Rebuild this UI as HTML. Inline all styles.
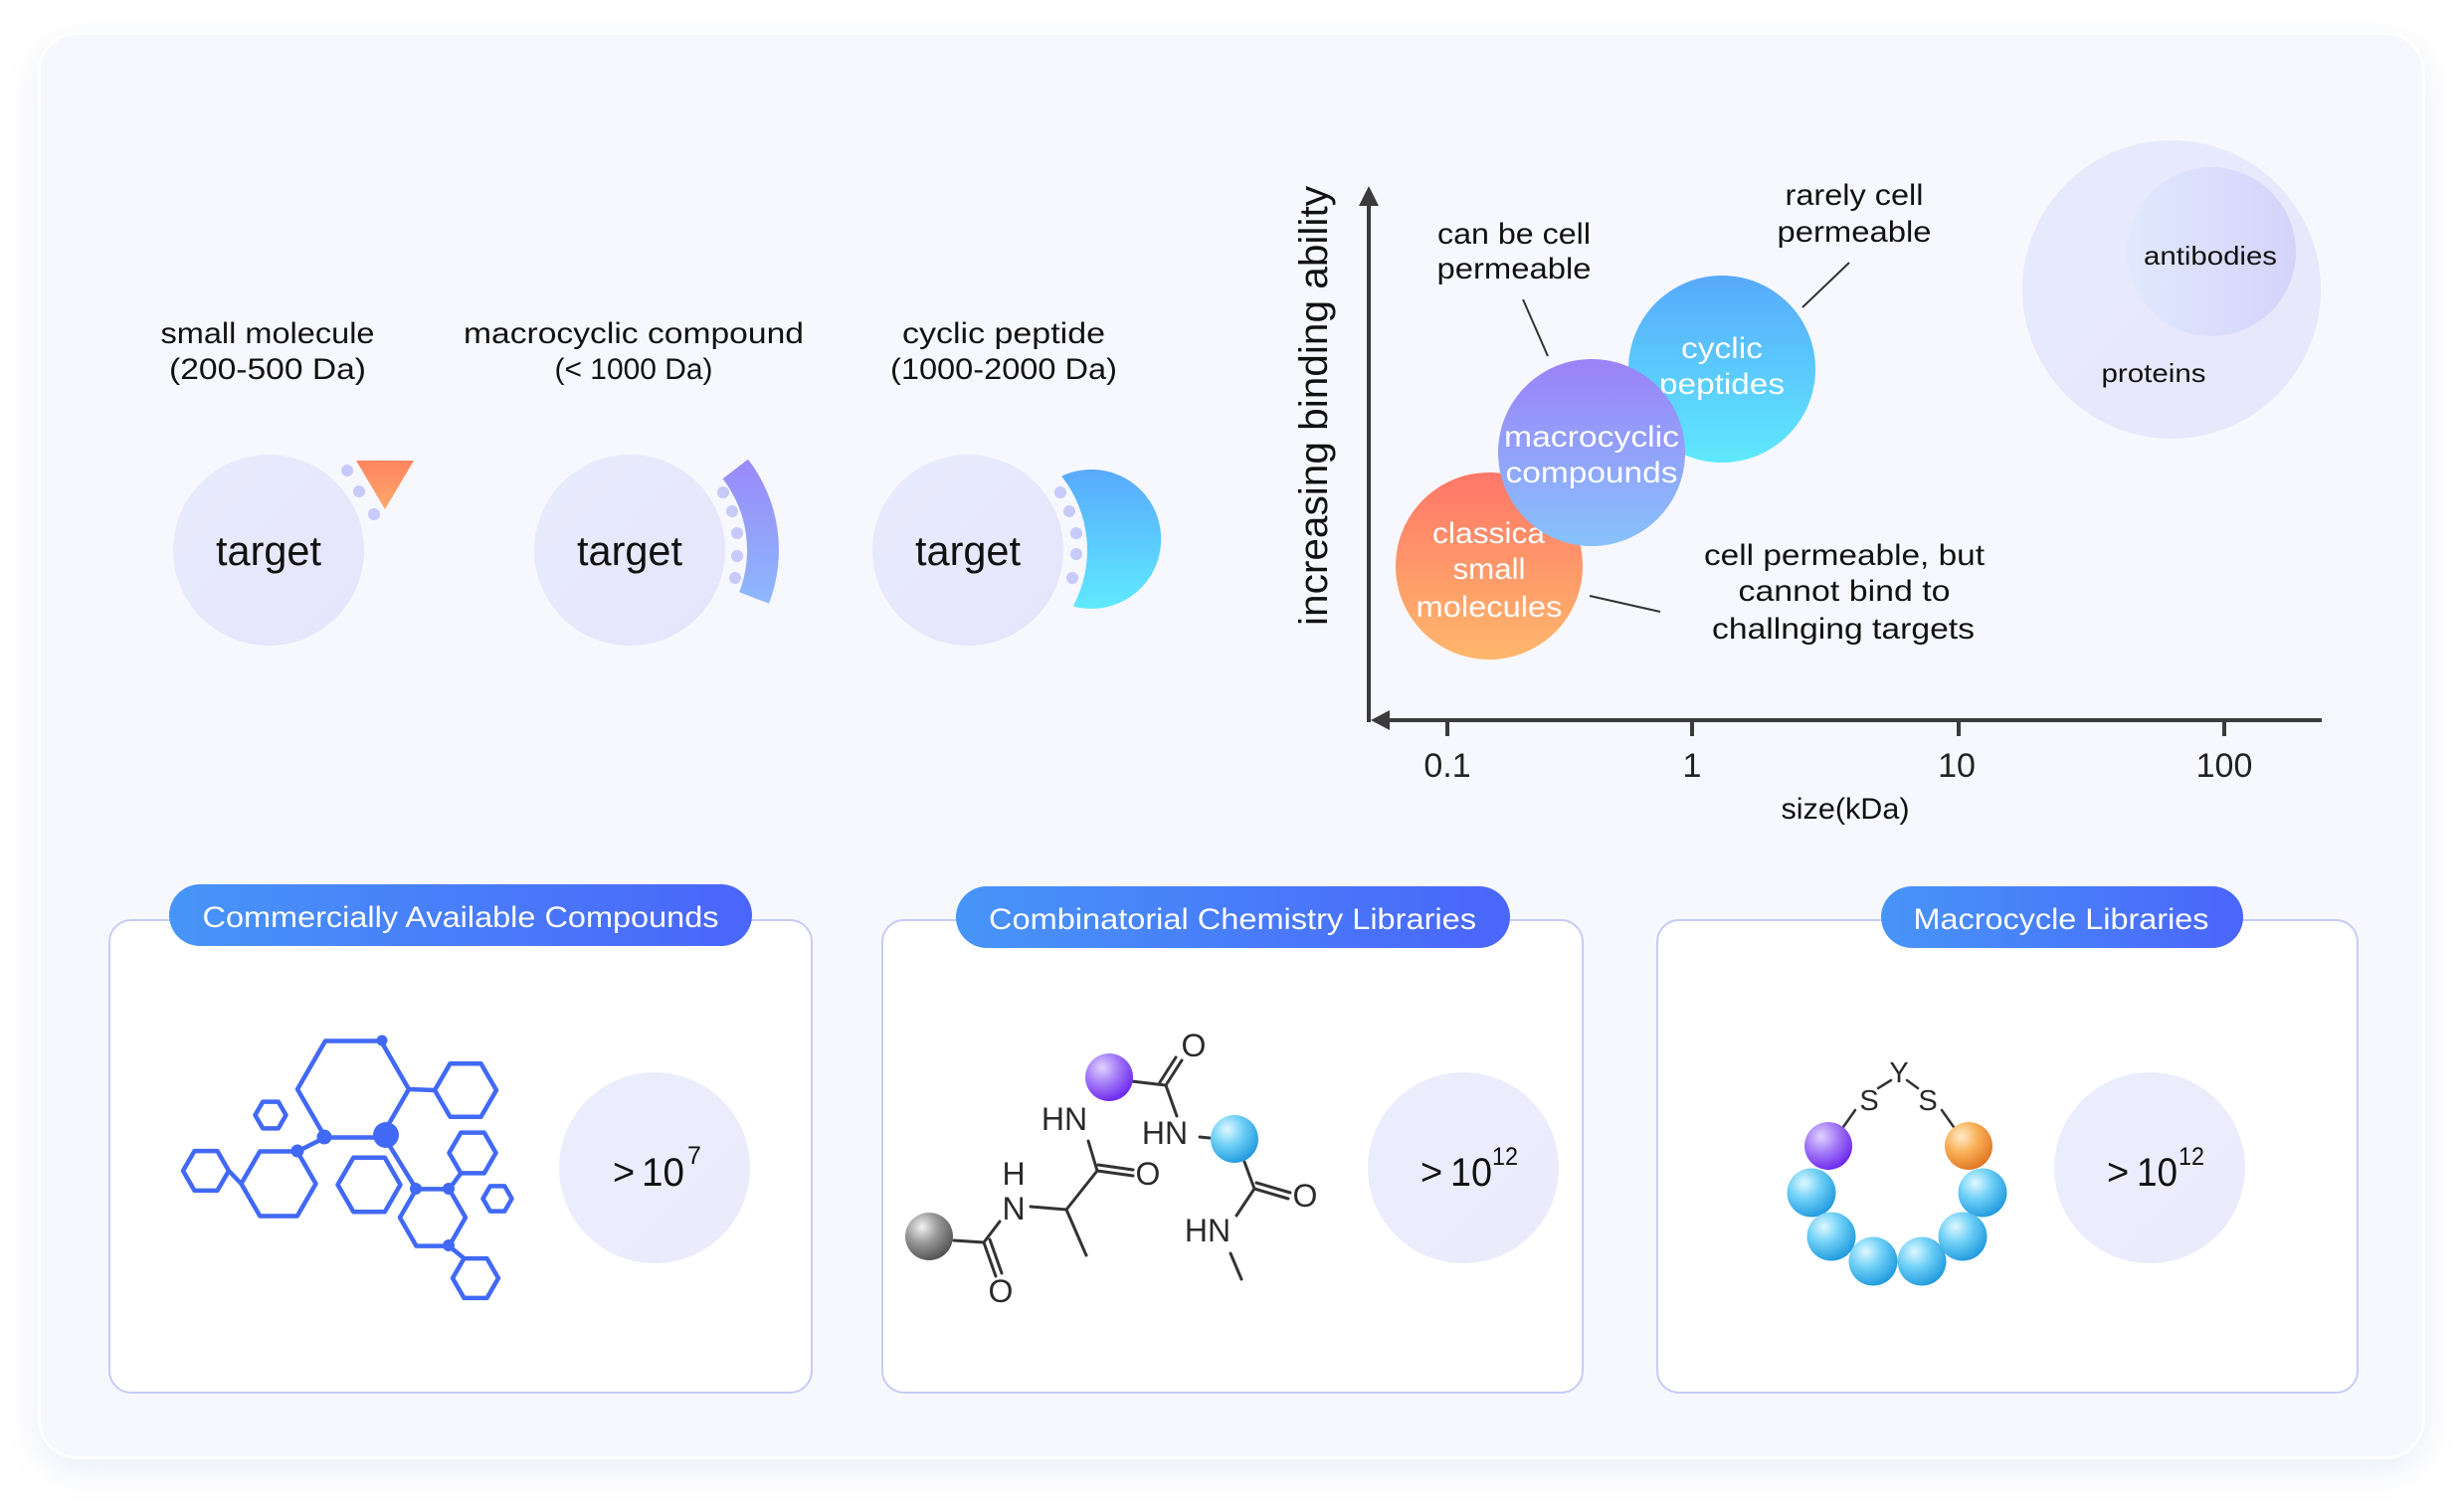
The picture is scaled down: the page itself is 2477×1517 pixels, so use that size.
<!DOCTYPE html>
<html><head><meta charset="utf-8">
<style>
html,body{margin:0;padding:0;background:#ffffff;}
body{width:2477px;height:1517px;position:relative;overflow:hidden;}
#card{position:absolute;left:38px;top:32px;width:2400px;height:1435px;box-sizing:border-box;border:3px solid #ffffff;border-radius:40px;background:#f7f8fe;box-shadow:0 12px 34px rgba(110,120,210,0.13);}
svg{position:absolute;left:0;top:0;}
text{font-family:"Liberation Sans",Arial,sans-serif;}
</style></head>
<body>
<div id="card"></div>
<svg width="2477" height="1517" viewBox="0 0 2477 1517" xmlns="http://www.w3.org/2000/svg">
<defs>
  <linearGradient id="gTarget" x1="0" y1="0" x2="1" y2="1"><stop offset="0" stop-color="#e8ecfd"/><stop offset="1" stop-color="#e6e4fb"/></linearGradient>
  <linearGradient id="gBig" x1="0" y1="0" x2="1" y2="1"><stop offset="0" stop-color="#ebeefd"/><stop offset="1" stop-color="#eceafc"/></linearGradient>
  <linearGradient id="gTri" x1="0" y1="0" x2="0" y2="1"><stop offset="0" stop-color="#ff845f"/><stop offset="1" stop-color="#ffa86a"/></linearGradient>
  <linearGradient id="gArc" gradientUnits="userSpaceOnUse" x1="0" y1="462" x2="0" y2="607"><stop offset="0" stop-color="#9a89f9"/><stop offset="1" stop-color="#8db8fc"/></linearGradient>
  <linearGradient id="gCres" gradientUnits="userSpaceOnUse" x1="0" y1="471" x2="0" y2="613"><stop offset="0" stop-color="#59a9fc"/><stop offset="1" stop-color="#5eeafe"/></linearGradient>
  <linearGradient id="gCyc" x1="0" y1="0" x2="0" y2="1"><stop offset="0" stop-color="#58a9fb"/><stop offset="1" stop-color="#5ee9fd"/></linearGradient>
  <linearGradient id="gMac" x1="0" y1="0" x2="0" y2="1"><stop offset="0" stop-color="#9b82f8"/><stop offset="1" stop-color="#88c2fc"/></linearGradient>
  <linearGradient id="gCls" x1="0" y1="0" x2="0" y2="1"><stop offset="0" stop-color="#ff7668"/><stop offset="1" stop-color="#ffb86c"/></linearGradient>
  <linearGradient id="gProt" x1="0" y1="0" x2="1" y2="1"><stop offset="0" stop-color="#e7ebfd"/><stop offset="1" stop-color="#e8e6fc"/></linearGradient>
  <linearGradient id="gAnti" x1="0" y1="0" x2="1" y2="0"><stop offset="0" stop-color="#e0e9fd"/><stop offset="1" stop-color="#d5d3fb"/></linearGradient>
  <linearGradient id="gPill" x1="0" y1="0" x2="1" y2="0"><stop offset="0" stop-color="#4795f8"/><stop offset="1" stop-color="#4a65fb"/></linearGradient>
  <radialGradient id="sGray" cx="0.35" cy="0.3" r="0.75"><stop offset="0" stop-color="#f2f2f2"/><stop offset="0.45" stop-color="#9a9a9a"/><stop offset="1" stop-color="#505050"/></radialGradient>
  <radialGradient id="sPur" cx="0.35" cy="0.3" r="0.75"><stop offset="0" stop-color="#e2d2ff"/><stop offset="0.45" stop-color="#a57ef7"/><stop offset="1" stop-color="#6a24ee"/></radialGradient>
  <radialGradient id="sCyan" cx="0.35" cy="0.3" r="0.75"><stop offset="0" stop-color="#e0f8ff"/><stop offset="0.45" stop-color="#6fd0f7"/><stop offset="1" stop-color="#1e98dd"/></radialGradient>
  <radialGradient id="sOr" cx="0.35" cy="0.3" r="0.75"><stop offset="0" stop-color="#ffeccc"/><stop offset="0.45" stop-color="#f9b25a"/><stop offset="1" stop-color="#df7420"/></radialGradient>
</defs>

<!-- ===== Top-left: target illustrations ===== -->
<g fill="#111" font-size="30" text-anchor="middle">
  <text x="269" y="345" textLength="215" lengthAdjust="spacingAndGlyphs">small molecule</text>
  <text x="269" y="381" textLength="198" lengthAdjust="spacingAndGlyphs">(200-500 Da)</text>
  <text x="637" y="345" textLength="342" lengthAdjust="spacingAndGlyphs">macrocyclic compound</text>
  <text x="637" y="381" textLength="159" lengthAdjust="spacingAndGlyphs">(&lt; 1000 Da)</text>
  <text x="1009" y="345" textLength="204" lengthAdjust="spacingAndGlyphs">cyclic peptide</text>
  <text x="1009" y="381" textLength="228" lengthAdjust="spacingAndGlyphs">(1000-2000 Da)</text>
</g>

<circle cx="270" cy="553" r="96" fill="url(#gTarget)"/>
<circle cx="633" cy="553" r="96" fill="url(#gTarget)"/>
<circle cx="973" cy="553" r="96" fill="url(#gTarget)"/>
<g fill="#111" font-size="42" text-anchor="middle">
  <text x="270" y="568" textLength="106" lengthAdjust="spacingAndGlyphs">target</text>
  <text x="633" y="568" textLength="106" lengthAdjust="spacingAndGlyphs">target</text>
  <text x="973" y="568" textLength="106" lengthAdjust="spacingAndGlyphs">target</text>
</g>
<!-- small molecule -->
<polygon points="358,463 416,463 387,512" fill="url(#gTri)"/>
<g fill="#c7cafa">
  <circle cx="349" cy="473" r="6"/><circle cx="361" cy="494" r="6"/><circle cx="376" cy="517" r="6"/>
</g>
<!-- macrocyclic arc -->
<path d="M752,461.7 A150,150 0 0 1 773,606.8 L743.2,595.3 A118,118 0 0 0 726.6,481.2 Z" fill="url(#gArc)"/>
<g fill="#c7cafa">
  <circle cx="727" cy="495" r="6"/><circle cx="736" cy="514" r="6"/><circle cx="741" cy="536" r="6"/><circle cx="741" cy="559" r="6"/><circle cx="739" cy="581" r="6"/>
</g>
<!-- cyclic peptide crescent -->
<path d="M1067.2,478.7 A70,70 0 1 1 1078.8,609.5 A120,120 0 0 0 1067.2,478.7 Z" fill="url(#gCres)"/>
<g fill="#c7cafa">
  <circle cx="1066" cy="495" r="6"/><circle cx="1075" cy="514" r="6"/><circle cx="1082" cy="536" r="6"/><circle cx="1082" cy="557" r="6"/><circle cx="1078" cy="581" r="6"/>
</g>

<!-- ===== Top-right: chart ===== -->
<circle cx="2183" cy="291" r="150" fill="url(#gProt)"/>
<circle cx="2223" cy="253" r="85" fill="url(#gAnti)"/>
<text x="2222" y="266" font-size="26" fill="#111" text-anchor="middle" textLength="134" lengthAdjust="spacingAndGlyphs">antibodies</text>
<text x="2165" y="384" font-size="26" fill="#111" text-anchor="middle" textLength="105" lengthAdjust="spacingAndGlyphs">proteins</text>

<!-- axes -->
<g stroke="#3b3b3b" stroke-width="4" fill="none">
  <line x1="1376" y1="200" x2="1376" y2="726"/>
  <line x1="1390" y1="724" x2="2334" y2="724"/>
  <line x1="1455" y1="724" x2="1455" y2="740"/>
  <line x1="1701" y1="724" x2="1701" y2="740"/>
  <line x1="1969" y1="724" x2="1969" y2="740"/>
  <line x1="2236" y1="724" x2="2236" y2="740"/>
</g>
<polygon points="1376,187 1366,207 1386,207" fill="#3b3b3b"/>
<polygon points="1378,724 1397,714 1397,734" fill="#3b3b3b"/>
<g fill="#222" font-size="34" text-anchor="middle">
  <text x="1455" y="781">0.1</text>
  <text x="1701" y="781">1</text>
  <text x="1967" y="781">10</text>
  <text x="2236" y="781">100</text>
</g>
<text x="1855" y="823" font-size="30" fill="#111" text-anchor="middle" textLength="129" lengthAdjust="spacingAndGlyphs">size(kDa)</text>
<text transform="translate(1334,408) rotate(-90)" x="0" y="0" font-size="40" fill="#111" text-anchor="middle" textLength="442" lengthAdjust="spacingAndGlyphs">increasing binding ability</text>

<!-- bubbles -->
<circle cx="1731" cy="371" r="94" fill="url(#gCyc)"/>
<g fill="#ffffff" font-size="30" text-anchor="middle">
  <text x="1731" y="360" textLength="82" lengthAdjust="spacingAndGlyphs">cyclic</text>
  <text x="1731" y="396" textLength="126" lengthAdjust="spacingAndGlyphs">peptides</text>
</g>
<circle cx="1497" cy="569" r="94" fill="url(#gCls)"/>
<g fill="#ffffff" font-size="30">
  <text x="1440" y="546" textLength="113" lengthAdjust="spacingAndGlyphs">classica</text>
  <text x="1497" y="582" text-anchor="middle" textLength="73" lengthAdjust="spacingAndGlyphs">small</text>
  <text x="1497" y="620" text-anchor="middle" textLength="147" lengthAdjust="spacingAndGlyphs">molecules</text>
</g>
<circle cx="1600" cy="455" r="94" fill="url(#gMac)"/>
<g fill="#ffffff" font-size="30" text-anchor="middle">
  <text x="1600" y="449" textLength="176" lengthAdjust="spacingAndGlyphs">macrocyclic</text>
  <text x="1600" y="485" textLength="173" lengthAdjust="spacingAndGlyphs">compounds</text>
</g>

<!-- annotations -->
<g fill="#111" font-size="30" text-anchor="middle">
  <text x="1522" y="245" textLength="154" lengthAdjust="spacingAndGlyphs">can be cell</text>
  <text x="1522" y="280" textLength="155" lengthAdjust="spacingAndGlyphs">permeable</text>
  <text x="1864" y="206" textLength="139" lengthAdjust="spacingAndGlyphs">rarely cell</text>
  <text x="1864" y="243" textLength="155" lengthAdjust="spacingAndGlyphs">permeable</text>
  <text x="1854" y="568" textLength="282" lengthAdjust="spacingAndGlyphs">cell permeable, but</text>
  <text x="1854" y="604" textLength="213" lengthAdjust="spacingAndGlyphs">cannot bind to</text>
  <text x="1853" y="642" textLength="264" lengthAdjust="spacingAndGlyphs">challnging targets</text>
</g>
<g stroke="#333" stroke-width="2">
  <line x1="1531" y1="301" x2="1556" y2="358"/>
  <line x1="1859" y1="264" x2="1812" y2="309"/>
  <line x1="1598" y1="599" x2="1669" y2="615"/>
</g>

<!-- ===== Bottom boxes ===== -->
<g fill="#ffffff" stroke="#c8ccf4" stroke-width="2">
  <rect x="110" y="925" width="706" height="475" rx="22"/>
  <rect x="887" y="925" width="704" height="475" rx="22"/>
  <rect x="1666" y="925" width="704" height="475" rx="22"/>
</g>
<rect x="170" y="889" width="586" height="62" rx="31" fill="url(#gPill)"/>
<rect x="961" y="891" width="557" height="62" rx="31" fill="url(#gPill)"/>
<rect x="1891" y="891" width="364" height="62" rx="31" fill="url(#gPill)"/>
<g fill="#ffffff" font-size="30" text-anchor="middle">
  <text x="463" y="932" textLength="519" lengthAdjust="spacingAndGlyphs">Commercially Available Compounds</text>
  <text x="1239" y="934" textLength="490" lengthAdjust="spacingAndGlyphs">Combinatorial Chemistry Libraries</text>
  <text x="2072" y="934" textLength="297" lengthAdjust="spacingAndGlyphs">Macrocycle Libraries</text>
</g>

<!-- count circles -->
<circle cx="658" cy="1174" r="96" fill="url(#gBig)"/>
<circle cx="1471" cy="1174" r="96" fill="url(#gBig)"/>
<circle cx="2161" cy="1174" r="96" fill="url(#gBig)"/>
<g fill="#111">
  <text x="616" y="1191" font-size="38">&gt;</text>
  <text x="645" y="1192" font-size="40" textLength="43" lengthAdjust="spacingAndGlyphs">10</text>
  <text x="691" y="1170" font-size="25">7</text>
  <text x="1428" y="1191" font-size="38">&gt;</text>
  <text x="1458" y="1192" font-size="40" textLength="42" lengthAdjust="spacingAndGlyphs">10</text>
  <text x="1500" y="1171" font-size="25" textLength="26" lengthAdjust="spacingAndGlyphs">12</text>
  <text x="2118" y="1191" font-size="38">&gt;</text>
  <text x="2148" y="1192" font-size="40" textLength="41" lengthAdjust="spacingAndGlyphs">10</text>
  <text x="2190" y="1171" font-size="25" textLength="26" lengthAdjust="spacingAndGlyphs">12</text>
</g>

<!-- hexagon network -->
<g fill="none" stroke="#4169f6" stroke-width="4.5" stroke-linejoin="round">
  <polygon points="411,1095 383,1143.5 327,1143.5 299,1095 327,1046.5 383,1046.5"/>
  <polygon points="499,1096 483.5,1122.8 452.5,1122.8 437,1096 452.5,1069.2 483.5,1069.2"/>
  <polygon points="287.5,1121 279.8,1134.4 264.2,1134.4 256.5,1121 264.2,1107.6 279.8,1107.6"/>
  <polygon points="230,1177 218.5,1196.9 195.5,1196.9 184,1177 195.5,1157.1 218.5,1157.1"/>
  <polygon points="317.5,1190 298.8,1222.5 261.3,1222.5 242.5,1190 261.3,1157.5 298.8,1157.5"/>
  <polygon points="402.5,1191 386.8,1218.3 355.3,1218.3 339.5,1191 355.3,1163.7 386.8,1163.7"/>
  <polygon points="468,1224 451.5,1252.6 418.5,1252.6 402,1224 418.5,1195.4 451.5,1195.4"/>
  <polygon points="498.5,1159 486.8,1179.4 463.3,1179.4 451.5,1159 463.3,1138.6 486.8,1138.6"/>
  <polygon points="514.5,1205 507.3,1217.6 492.8,1217.6 485.5,1205 492.8,1192.4 507.3,1192.4"/>
  <polygon points="501,1285 489.5,1304.9 466.5,1304.9 455,1285 466.5,1265.1 489.5,1265.1"/>
  <line x1="411" y1="1095" x2="437" y2="1096"/>
  <line x1="327" y1="1143.5" x2="299" y2="1157.5"/>
  <line x1="385" y1="1141" x2="418.5" y2="1195.4"/>
  <line x1="230" y1="1177" x2="242.5" y2="1190"/>
  <line x1="463.3" y1="1179.4" x2="451.5" y2="1195.4"/>
  <line x1="451.5" y1="1252.6" x2="466.5" y2="1265.1"/>
</g>
<g fill="#4169f6">
  <circle cx="384" cy="1046" r="5.5"/>
  <circle cx="326" cy="1143" r="7.5"/>
  <circle cx="388" cy="1141" r="13"/>
  <circle cx="299" cy="1157" r="6.5"/>
  <circle cx="418" cy="1195" r="6"/>
  <circle cx="451" cy="1195" r="6"/>
  <circle cx="451" cy="1252" r="6"/>
</g>

<!-- combinatorial chemistry structure -->
<g stroke="#333" stroke-width="3" fill="none" stroke-linecap="round">
  <line x1="959" y1="1247" x2="989" y2="1249"/>
  <line x1="989" y1="1249" x2="1005" y2="1228"/>
  <line x1="989" y1="1249" x2="1001" y2="1283"/>
  <line x1="995" y1="1246" x2="1007" y2="1280"/>
  <line x1="1036" y1="1213" x2="1072" y2="1216"/>
  <line x1="1072" y1="1216" x2="1092" y2="1262"/>
  <line x1="1072" y1="1216" x2="1103" y2="1177"/>
  <line x1="1103" y1="1177" x2="1139" y2="1182"/>
  <line x1="1104" y1="1171" x2="1139" y2="1176"/>
  <line x1="1103" y1="1177" x2="1094" y2="1147"/>
  <line x1="1138" y1="1087" x2="1172" y2="1091"/>
  <line x1="1172" y1="1091" x2="1188" y2="1066"/>
  <line x1="1166" y1="1088" x2="1182" y2="1063"/>
  <line x1="1172" y1="1091" x2="1183" y2="1122"/>
  <line x1="1206" y1="1143" x2="1216" y2="1144"/>
  <line x1="1251" y1="1168" x2="1261" y2="1195"/>
  <line x1="1261" y1="1195" x2="1295" y2="1205"/>
  <line x1="1263" y1="1189" x2="1297" y2="1199"/>
  <line x1="1261" y1="1195" x2="1243" y2="1222"/>
  <line x1="1237" y1="1260" x2="1248" y2="1286"/>
</g>
<g fill="#2a2a2a" font-size="32" text-anchor="middle">
  <text x="1200" y="1062">O</text>
  <text x="1070" y="1136">HN</text>
  <text x="1171" y="1150">HN</text>
  <text x="1154" y="1191">O</text>
  <text x="1019" y="1191">H</text>
  <text x="1019" y="1226">N</text>
  <text x="1312" y="1213">O</text>
  <text x="1214" y="1248">HN</text>
  <text x="1006" y="1309">O</text>
</g>
<circle cx="934" cy="1243" r="24" fill="url(#sGray)"/>
<circle cx="1115" cy="1083" r="24" fill="url(#sPur)"/>
<circle cx="1241" cy="1145" r="24" fill="url(#sCyan)"/>

<!-- macrocycle -->
<g stroke="#333" stroke-width="2.5" stroke-linecap="round">
  <line x1="1865" y1="1116" x2="1853" y2="1133"/>
  <line x1="1888" y1="1094" x2="1901" y2="1086"/>
  <line x1="1917" y1="1086" x2="1928" y2="1094"/>
  <line x1="1952" y1="1116" x2="1964" y2="1133"/>
</g>
<g fill="#2a2a2a" font-size="29" text-anchor="middle">
  <text x="1909" y="1088">Y</text>
  <text x="1879" y="1116">S</text>
  <text x="1938" y="1116">S</text>
</g>
<circle cx="1838" cy="1152" r="24" fill="url(#sPur)"/>
<circle cx="1979" cy="1152" r="24" fill="url(#sOr)"/>
<circle cx="1821" cy="1199" r="24.5" fill="url(#sCyan)"/>
<circle cx="1993" cy="1199" r="24.5" fill="url(#sCyan)"/>
<circle cx="1841" cy="1243" r="24.5" fill="url(#sCyan)"/>
<circle cx="1973" cy="1243" r="24.5" fill="url(#sCyan)"/>
<circle cx="1883" cy="1268" r="24.5" fill="url(#sCyan)"/>
<circle cx="1932" cy="1268" r="24.5" fill="url(#sCyan)"/>
</svg>
</body></html>
